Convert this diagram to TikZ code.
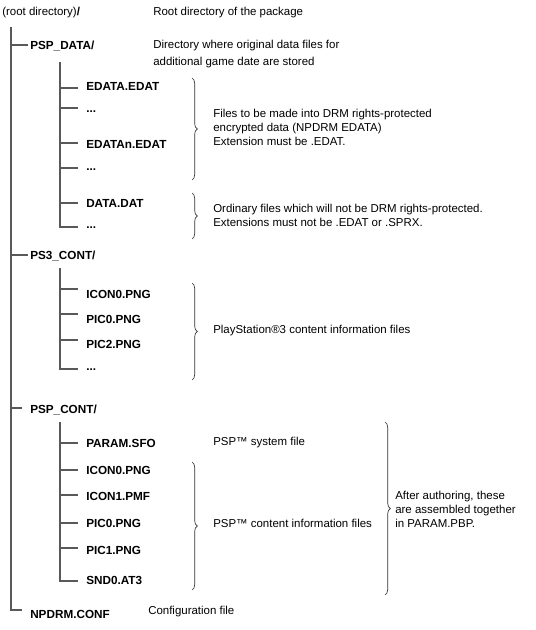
\documentclass[tikz,border=0pt]{standalone}
\usepackage{fontspec}
\setmainfont{Liberation Sans}
\usetikzlibrary{decorations.pathreplacing}
\begin{document}
\begin{tikzpicture}[x=0.75pt,y=-0.75pt,
  lbl/.style={anchor=west,inner sep=0pt,font=\fontsize{8.6}{10.5}\selectfont,align=left},
  fname/.style={anchor=west,inner sep=0pt,font=\fontsize{8.8}{10.5}\selectfont\bfseries,text height=6.3pt,text depth=0pt},
  tree/.style={draw=black!65,line width=0.8pt},
  brc/.style={draw=black!80,line width=0.5pt,decorate,decoration={brace,amplitude=4pt}}]
\useasboundingbox (0,0) rectangle (535,630);

% ---- labels of the tree ----
\node[lbl] (root) at (2,13) {(root directory)\textbf{/}};
\node[lbl] (rootd) at (153,13) {Root directory of the package};

\node[fname] (pspdata) at (30,45) {PSP\_DATA/};
\node[lbl] (pspdatad) at (153,54) {Directory where original data files for\\[2pt]additional game date are stored};
\node[fname] (d1) at (86,86) {EDATA.EDAT};
\node[fname] (d2) at (86,108) {...};
\node[fname] (d3) at (86,144) {EDATAn.EDAT};
\node[fname] (d4) at (86,166) {...};
\node[fname] (d5) at (86,203) {DATA.DAT};
\node[fname] (d6) at (86,224) {...};

\node[fname] (ps3) at (30,255) {PS3\_CONT/};
\node[fname] (p1) at (86,294) {ICON0.PNG};
\node[fname] (p2) at (86,319) {PIC0.PNG};
\node[fname] (p3) at (86,344) {PIC2.PNG};
\node[fname] (p4) at (86,366) {...};

\node[fname] (pspcont) at (30,409) {PSP\_CONT/};
\node[fname] (c1) at (86,443) {PARAM.SFO};
\node[fname] (c2) at (86,470) {ICON0.PNG};
\node[fname] (c3) at (86,496) {ICON1.PMF};
\node[fname] (c4) at (86,523) {PIC0.PNG};
\node[fname] (c5) at (86,550) {PIC1.PNG};
\node[fname] (c6) at (86,580) {SND0.AT3};

\node[fname] (npdrm) at (30,614) {NPDRM.CONF};
\node[lbl] (npdrmd) at (148,612) {Configuration file};

% ---- descriptions ----
\node[lbl] (edatd) at (213,127) {Files to be made into DRM rights-protected\\encrypted data (NPDRM EDATA)\\Extension must be .EDAT.};
\node[lbl] (datd) at (213,215) {Ordinary files which will not be DRM rights-protected.\\Extensions must not be .EDAT or .SPRX.};
\node[lbl] (ps3d) at (213,331) {PlayStation®3 content information files};
\node[lbl] (sfod) at (213,443) {PSP™ system file};
\node[lbl] (pspd) at (213,523) {PSP™ content information files};
\node[lbl] (pbpd) at (395,509) {After authoring, these\\are assembled together\\in PARAM.PBP.};

% ---- tree lines ----
\coordinate (t0) at (11,27);
\coordinate (t1) at (11,610);
\coordinate (tend) at (22,610);
\draw[tree] (t0) -- (t1) -- (tend);
\draw[tree] (t0 |- pspdata.west) -- ([xshift=-1.5pt]pspdata.west);
\draw[tree] (t0 |- 0,255) -- ([xshift=-1.5pt]ps3.west);
\coordinate (b3) at (22,408);
\draw[tree] (t0 |- b3) -- (b3);

% sub-tree PSP_DATA
\coordinate (s1) at (60,62);
\coordinate (s1e) at (60,227);
\draw[tree] (s1) -- (s1e) -- ([xshift=-6.2pt]s1e -| d6.west);
\foreach \n/\yy in {d1/88,d2/108,d3/143,d4/168,d5/203}
  \draw[tree] (60,\yy) -- ([xshift=-6.2pt]d1.west |- 0,\yy);

% sub-tree PS3_CONT
\coordinate (s2) at (60,268);
\coordinate (s2e) at (60,369);
\draw[tree] (s2) -- (s2e) -- ([xshift=-6.2pt]s2e -| p4.west);
\foreach \n/\yy in {p1/289,p2/314,p3/340}
  \draw[tree] (60,\yy) -- ([xshift=-6.2pt]p1.west |- 0,\yy);

% sub-tree PSP_CONT
\coordinate (s3) at (60,422);
\coordinate (s3e) at (60,581);
\draw[tree] (s3) -- (s3e) -- ([xshift=-6.2pt]s3e -| c6.west);
\foreach \n/\yy in {c1/443,c2/470,c3/495,c4/523,c5/548}
  \draw[tree] (60,\yy) -- ([xshift=-6.2pt]c1.west |- 0,\yy);

% ---- braces ----
\draw[brc] (192,78) -- (192,180);
\draw[brc] (192,193) -- (192,239);
\draw[brc] (192,283) -- (192,380);
\draw[brc] (192,462) -- (192,590);
\draw[brc] (385,422) -- (385,595);
\end{tikzpicture}
\end{document}
